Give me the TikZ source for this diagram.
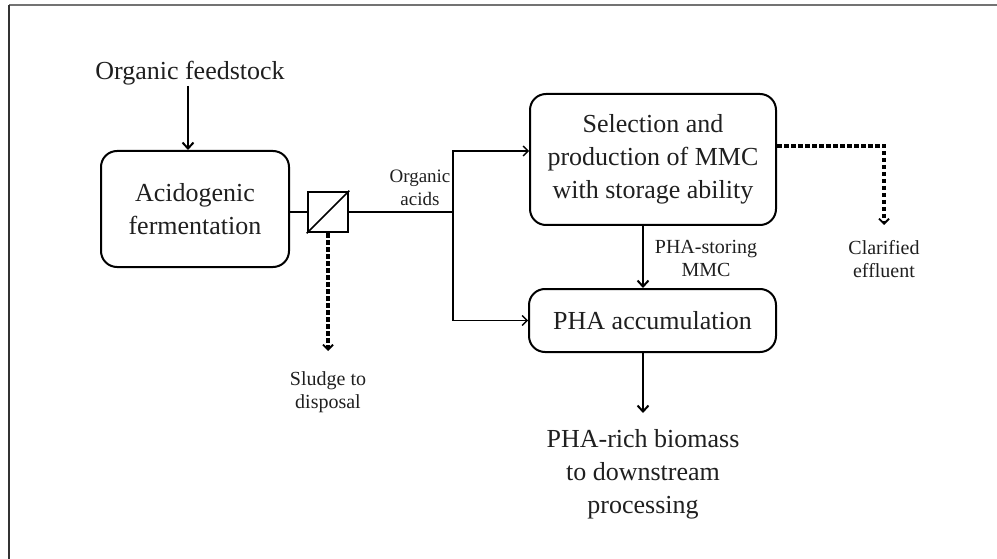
\documentclass[tikz,border=0pt]{standalone}
\usepackage{fontspec}
\setmainfont{Liberation Serif}
\usetikzlibrary{arrows.meta}
\newcommand\bigtxt{\fontsize{26}{33}\selectfont}
\newcommand\smalltxt{\fontsize{20}{23}\selectfont}
\newcommand\acidtxt{\fontsize{19}{23}\selectfont}
\begin{document}
\begin{tikzpicture}[x=1pt,y=-1pt,
  procbox/.style={draw, line width=2pt, rounded corners=16pt, align=center,
    font=\bigtxt, inner sep=0pt, text=black!88},
  bigtext/.style={align=center, font=\bigtxt, inner sep=0pt, text=black!88},
  smalltext/.style={align=center, font=\smalltxt, inner sep=0pt, text=black!88},
  filterbox/.style={draw, line width=2.6pt, fill=white, minimum size=40pt, inner sep=0pt},
  mainflow/.style={line width=2pt, -{Straight Barb[length=6pt,width=11pt,line width=2pt]}},
  thinflow/.style={line width=1.3pt},
  thinarrow/.style={thinflow, -{Straight Barb[length=5pt,width=10pt,line width=1.3pt]}},
  wasteflow/.style={line width=3.2pt, dash pattern=on 4.5pt off 2.5pt,
    -{Straight Barb[length=5pt,width=10pt,line width=1.8pt]}},
  frameline/.style={line width=1.6pt}]

\useasboundingbox (0,0) rectangle (997,559);

% frame
\coordinate (fr0) at (9,5);
\coordinate (fr1) at (997,5);
\coordinate (fr2) at (9,559);
\draw[frameline, black!55] (fr0) -- (fr1);
\draw[frameline, black!80] (fr0) -- (fr2);

% process units
\node[procbox, minimum width=188pt, minimum height=116pt] (ferm) at (195,209)
  {Acidogenic\\fermentation};
\node[procbox, minimum width=246pt, minimum height=131pt] (sel) at (653,159.5)
  {Selection and\\production of MMC\\with storage ability};
\node[procbox, minimum width=247pt, minimum height=63pt] (acc) at (652.5,320.5)
  {PHA accumulation};
\node[filterbox] (filt) at (328,212) {};
\draw[line width=1.6pt] (filt.south west) -- (filt.north east);

% labels
\node[bigtext, anchor=base] (feed) at (190,80) {Organic feedstock};
\node[smalltext, font=\acidtxt] (acids) at (420,188) {Organic\\acids};
\node[smalltext] (storing) at (706,258) {PHA-storing\\MMC};
\node[smalltext] (clar) at (884,259) {Clarified\\effluent};
\node[smalltext] (sludge) at (328,392) {Sludge to\\disposal};
\node[bigtext] (rich) at (643,474) {PHA-rich biomass\\to downstream\\processing};

% helper points
\coordinate (j) at (453,212);
\coordinate (jtop) at (453,151);
\coordinate (tx) at (643,0);
\coordinate (outend) at (643,413);
\coordinate (effcorner) at (884,146);
\coordinate (effend) at (884,225);
\coordinate (sludgeend) at (328,351);

% feed
\draw[mainflow] (feed.south -| 188,0) -- (ferm.north -| 188,0);

% acids line
\draw[thinflow] (ferm.east |- filt.west) -- (filt.west);
\draw[thinflow] (filt.east) -- (j);
\draw[thinarrow] (j) -- (jtop) -- (sel.west |- jtop);
\draw[thinarrow] (j) |- (acc.west);

% biomass flow
\draw[mainflow] (sel.south -| tx) -- (acc.north -| tx);
\draw[mainflow] (acc.south -| tx) -- (outend);

% waste streams
\draw[wasteflow] (sel.east |- effcorner) -- (effcorner) -- (effend);
\draw[wasteflow] (filt.south) -- (sludgeend);

\end{tikzpicture}
\end{document}
